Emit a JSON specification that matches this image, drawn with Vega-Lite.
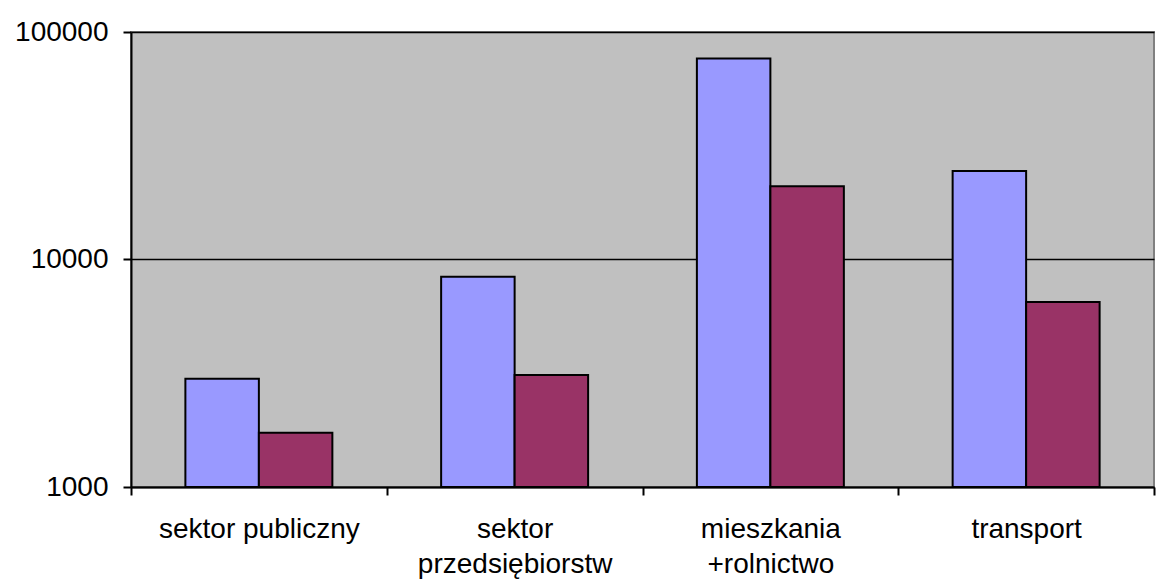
{
  "$schema": "https://vega.github.io/schema/vega-lite/v6.json",
  "width": 1023,
  "height": 455,
  "autosize": {"type": "none"},
  "padding": {"left": 131, "top": 32, "right": 11, "bottom": 94},
  "background": "white",
  "config": {
    "font": "Liberation Sans",
    "view": {"fill": "#C0C0C0", "stroke": "#808080", "strokeWidth": 2}
  },
  "data": {
    "values": [
      {"kategoria": "sektor publiczny", "seria": "seria 1", "wartosc": 2990},
      {"kategoria": "sektor publiczny", "seria": "seria 2", "wartosc": 1730},
      {"kategoria": "sektor przedsiębiorstw", "seria": "seria 1", "wartosc": 8400},
      {"kategoria": "sektor przedsiębiorstw", "seria": "seria 2", "wartosc": 3110},
      {"kategoria": "mieszkania +rolnictwo", "seria": "seria 1", "wartosc": 76500},
      {"kategoria": "mieszkania +rolnictwo", "seria": "seria 2", "wartosc": 21000},
      {"kategoria": "transport", "seria": "seria 1", "wartosc": 24500},
      {"kategoria": "transport", "seria": "seria 2", "wartosc": 6500}
    ]
  },
  "mark": {"type": "bar", "stroke": "black", "strokeWidth": 2},
  "encoding": {
    "x": {
      "field": "kategoria",
      "type": "nominal",
      "sort": null,
      "scale": {"paddingInner": 0, "paddingOuter": 0},
      "axis": {
        "title": null,
        "labelAngle": 0,
        "labelFontSize": 28,
        "labelColor": "black",
        "labelLimit": 0,
        "labelPadding": 20,
        "labelLineHeight": 35,
        "labelBaseline": "top",
        "labelExpr": "datum.value == 'sektor przedsiębiorstw' ? ['sektor', 'przedsiębiorstw'] : datum.value == 'mieszkania +rolnictwo' ? ['mieszkania', '+rolnictwo'] : datum.value",
        "tickBand": "extent",
        "tickSize": 8,
        "tickColor": "black",
        "tickWidth": 2,
        "domainColor": "black",
        "domainWidth": 2,
        "grid": false
      }
    },
    "xOffset": {
      "field": "seria",
      "type": "nominal",
      "scale": {"paddingInner": 0, "paddingOuter": 0.74}
    },
    "y": {
      "field": "wartosc",
      "type": "quantitative",
      "scale": {"type": "log", "domain": [1000, 100000], "nice": false},
      "axis": {
        "title": null,
        "values": [1000, 10000, 100000],
        "format": "d",
        "labelFontSize": 28,
        "labelColor": "black",
        "labelPadding": 15,
        "tickSize": 8,
        "tickColor": "black",
        "tickWidth": 2,
        "domainColor": "black",
        "domainWidth": 2,
        "grid": true,
        "gridColor": "black",
        "gridWidth": 1.5,
        "gridOpacity": 1
      }
    },
    "y2": {"datum": 1000},
    "color": {
      "field": "seria",
      "type": "nominal",
      "scale": {"domain": ["seria 1", "seria 2"], "range": ["#9999FF", "#993366"]},
      "legend": null
    }
  }
}
